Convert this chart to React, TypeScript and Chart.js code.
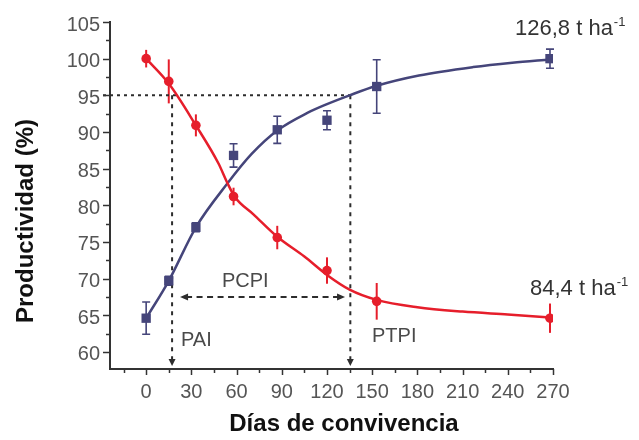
import React, { useEffect, useRef } from 'react';
import { Chart, registerables } from 'chart.js';

Chart.register(...registerables);

const FONT = "'Liberation Sans', Arial, Helvetica, sans-serif";
const RED = '#e61e2b';
const NAVY = '#45457a';
const GUIDE = '#2d2d2d';

// Muestreos: días de convivencia
const days = [0, 15, 33, 58, 87, 120, 153, 268];

// Período con malezas (productividad relativa, %)
const weedyMean = [100.0, 96.9, 90.9, 81.2, 75.6, 71.1, 66.9, 64.6];
const weedyErr = [1.2, 3.0, 1.5, 1.2, 1.6, 1.8, 2.5, 2.0];

// Período libre de malezas (productividad relativa, %)
const weedFreeMean = [64.6, 69.7, 77.0, 86.8, 90.3, 91.6, 96.2, 100.0];
const weedFreeErr = [2.2, 0.6, 0.6, 1.6, 1.85, 1.3, 3.65, 1.3];

// Curvas ajustadas
const weedyFitDays = [0, 15, 33, 48, 54, 59, 71, 87, 105, 120, 135, 153, 180, 210, 240, 268];
const weedyFit = [100.0, 96.6, 90.9, 85.7, 83.0, 81.1, 78.8, 75.7, 73.0, 70.5, 68.5, 67.1, 66.1, 65.5, 65.1, 64.7];
const weedFreeFitDays = [0, 15, 33, 54, 70, 87, 107, 120, 135, 153, 181, 217, 243, 268];
const weedFreeFit = [64.6, 69.7, 77.0, 83.0, 87.0, 90.2, 92.6, 93.8, 95.0, 96.3, 97.7, 98.85, 99.45, 99.9];

// Ejes
const xTicks = [0, 30, 60, 90, 120, 150, 180, 210, 240, 270];
const yTicks = [60, 65, 70, 75, 80, 85, 90, 95, 100, 105];
const xRange = [-24, 270];
const yRange = [57.67, 105];

// Períodos críticos
const threshold = 95;
const paiDay = 17.2;
const ptpiDay = 135.5;
const pcpiLevel = 67.5;
const pcpiArrow = [22.5, 132];

const weedFreeYield = '126,8 t ha';
const weedyYield = '84,4 t ha';
const unitExp = '-1';

const toPoints = (xs: number[], ys: number[]) => xs.map((d, i) => ({ x: d, y: ys[i] }));

const overlay = {
  id: 'overlay',
  beforeDatasetsDraw(chart: any) {
    const { ctx, chartArea, scales } = chart;
    const x = scales.x;
    const y = scales.y;
    ctx.save();

    // barras de error
    const bars = (mean: number[], err: number[], color: string, width: number, cap: number) => {
      ctx.strokeStyle = color;
      ctx.lineWidth = width;
      ctx.setLineDash([]);
      days.forEach((d, i) => {
        const px = x.getPixelForValue(d);
        const top = y.getPixelForValue(mean[i] + err[i]);
        const bot = y.getPixelForValue(mean[i] - err[i]);
        ctx.beginPath();
        ctx.moveTo(px, top);
        ctx.lineTo(px, bot);
        if (cap) {
          ctx.moveTo(px - cap, top);
          ctx.lineTo(px + cap, top);
          ctx.moveTo(px - cap, bot);
          ctx.lineTo(px + cap, bot);
        }
        ctx.stroke();
      });
    };
    bars(weedyMean, weedyErr, RED, 2, 0);
    bars(weedFreeMean, weedFreeErr, NAVY, 1.6, 4);

    // líneas guía
    ctx.strokeStyle = GUIDE;
    ctx.fillStyle = GUIDE;
    ctx.lineWidth = 2;
    const seg = (x1: number, y1: number, x2: number, y2: number) => {
      ctx.beginPath();
      ctx.moveTo(x1, y1);
      ctx.lineTo(x2, y2);
      ctx.stroke();
    };
    const tri = (pts: number[][]) => {
      ctx.beginPath();
      ctx.moveTo(pts[0][0], pts[0][1]);
      ctx.lineTo(pts[1][0], pts[1][1]);
      ctx.lineTo(pts[2][0], pts[2][1]);
      ctx.closePath();
      ctx.fill();
    };

    const y95 = y.getPixelForValue(threshold);
    const xPai = x.getPixelForValue(paiDay);
    const xPtpi = x.getPixelForValue(ptpiDay);
    ctx.setLineDash([3, 4]);
    seg(chartArea.left - 7, y95, xPtpi, y95);

    const tipY = chartArea.bottom - 3;
    ctx.setLineDash([4, 5]);
    seg(xPai, y95, xPai, tipY - 6);
    seg(xPtpi, y95, xPtpi, tipY - 6);
    ctx.setLineDash([]);
    tri([[xPai, tipY], [xPai - 3.5, tipY - 7], [xPai + 3.5, tipY - 7]]);
    tri([[xPtpi, tipY], [xPtpi - 3.5, tipY - 7], [xPtpi + 3.5, tipY - 7]]);

    const yP = y.getPixelForValue(pcpiLevel);
    const xa = x.getPixelForValue(pcpiArrow[0]);
    const xb = x.getPixelForValue(pcpiArrow[1]);
    ctx.setLineDash([6, 4.5]);
    seg(xa + 6, yP, xb - 6, yP);
    ctx.setLineDash([]);
    tri([[xa, yP], [xa + 8, yP - 3.5], [xa + 8, yP + 3.5]]);
    tri([[xb, yP], [xb - 8, yP - 3.5], [xb - 8, yP + 3.5]]);

    ctx.restore();
  },
  afterDraw(chart: any) {
    const { ctx, chartArea, scales } = chart;
    const x = scales.x;
    const y = scales.y;
    ctx.save();

    // marcas de los ejes
    ctx.strokeStyle = '#333';
    ctx.lineWidth = 1.5;
    const tickX = (v: number, len: number) => {
      const px = Math.round(x.getPixelForValue(v)) + 0.5;
      ctx.beginPath();
      ctx.moveTo(px, chartArea.bottom);
      ctx.lineTo(px, chartArea.bottom + len);
      ctx.stroke();
    };
    const tickY = (v: number, len: number) => {
      const py = Math.round(y.getPixelForValue(v)) + 0.5;
      ctx.beginPath();
      ctx.moveTo(chartArea.left, py);
      ctx.lineTo(chartArea.left - len, py);
      ctx.stroke();
    };
    xTicks.forEach((v) => {
      tickX(v, 6);
      const half = v - (xTicks[1] - xTicks[0]) / 2;
      if (half > xRange[0]) tickX(half, 4);
    });
    yTicks.forEach((v) => {
      tickY(v, 7);
      const half = v - (yTicks[1] - yTicks[0]) / 2;
      if (half > yRange[0]) tickY(half, 4);
    });

    // títulos de los ejes
    ctx.fillStyle = '#111';
    ctx.font = `bold 24px ${FONT}`;
    ctx.textAlign = 'center';
    ctx.textBaseline = 'alphabetic';
    ctx.fillText('Días de convivencia', 344, 431);
    ctx.save();
    ctx.translate(33, 221);
    ctx.rotate(-Math.PI / 2);
    ctx.fillText('Productividad (%)', 0, 0);
    ctx.restore();

    // rótulos
    ctx.textAlign = 'left';
    ctx.fillStyle = '#4a4a4a';
    ctx.font = `20px ${FONT}`;
    ctx.fillText('PCPI', 222, 287);
    ctx.fillText('PAI', 181, 346);
    ctx.fillText('PTPI', 372, 342);

    const yieldLabel = (txt: string, lx: number, base: number) => {
      ctx.fillStyle = '#333';
      ctx.font = `22px ${FONT}`;
      ctx.fillText(txt, lx, base);
      const w = ctx.measureText(txt).width;
      ctx.font = `13px ${FONT}`;
      ctx.fillText(unitExp, lx + w + 1, base - 9);
    };
    yieldLabel(weedFreeYield, 515, 35);
    yieldLabel(weedyYield, 530, 295);

    ctx.restore();
  },
};

export default function App() {
  const canvasRef = useRef<HTMLCanvasElement | null>(null);

  useEffect(() => {
    const canvas = canvasRef.current;
    if (!canvas) return;
    const tickFont = { family: FONT, size: 20 };
    const chart = new Chart(canvas, {
      type: 'scatter',
      data: {
        datasets: [
          {
            label: 'Con malezas',
            data: toPoints(days, weedyMean),
            showLine: false,
            pointStyle: 'circle',
            pointRadius: 4.8,
            pointBackgroundColor: RED,
            pointBorderWidth: 0,
            order: 0,
          },
          {
            label: 'Libre de malezas',
            data: toPoints(days, weedFreeMean),
            showLine: false,
            pointStyle: 'rect',
            pointRadius: 6.6,
            pointBackgroundColor: NAVY,
            pointBorderWidth: 0,
            order: 1,
          },
          {
            label: 'Ajuste con malezas',
            data: toPoints(weedyFitDays, weedyFit),
            showLine: true,
            borderColor: RED,
            borderWidth: 2.5,
            pointRadius: 0,
            cubicInterpolationMode: 'monotone',
            order: 2,
          },
          {
            label: 'Ajuste libre de malezas',
            data: toPoints(weedFreeFitDays, weedFreeFit),
            showLine: true,
            borderColor: NAVY,
            borderWidth: 2.5,
            pointRadius: 0,
            cubicInterpolationMode: 'monotone',
            order: 3,
          },
        ],
      },
      options: {
        responsive: false,
        animation: false,
        events: [],
        layout: { padding: { top: 21.6, right: 86, left: 0, bottom: 0 } },
        plugins: { legend: { display: false }, tooltip: { enabled: false } },
        scales: {
          x: {
            type: 'linear',
            min: xRange[0],
            max: xRange[1],
            afterBuildTicks: (s: any) => {
              s.ticks = xTicks.map((v) => ({ value: v }));
            },
            afterFit: (s: any) => {
              s.height = 71;
            },
            grid: { display: false, drawTicks: false },
            border: { display: true, color: '#333', width: 2 },
            ticks: {
              autoSkip: false,
              maxRotation: 0,
              padding: 11,
              color: '#555',
              font: tickFont,
              callback: (v: any) => String(v),
            },
          },
          y: {
            type: 'linear',
            min: yRange[0],
            max: yRange[1],
            afterBuildTicks: (s: any) => {
              s.ticks = yTicks.map((v) => ({ value: v }));
            },
            afterFit: (s: any) => {
              s.width = 110;
            },
            grid: { display: false, drawTicks: false },
            border: { display: true, color: '#333', width: 2 },
            ticks: {
              autoSkip: false,
              padding: 10,
              labelOffset: 3,
              color: '#555',
              font: tickFont,
              callback: (v: any) => String(v),
            },
          },
        },
      },
      plugins: [overlay],
    } as any);
    return () => chart.destroy();
  }, []);

  return (
    <div style={{ position: 'absolute', left: 0, top: 0, width: 639, height: 440, background: '#fff' }}>
      <canvas ref={canvasRef} width={639} height={440} style={{ display: 'block' }} />
    </div>
  );
}
